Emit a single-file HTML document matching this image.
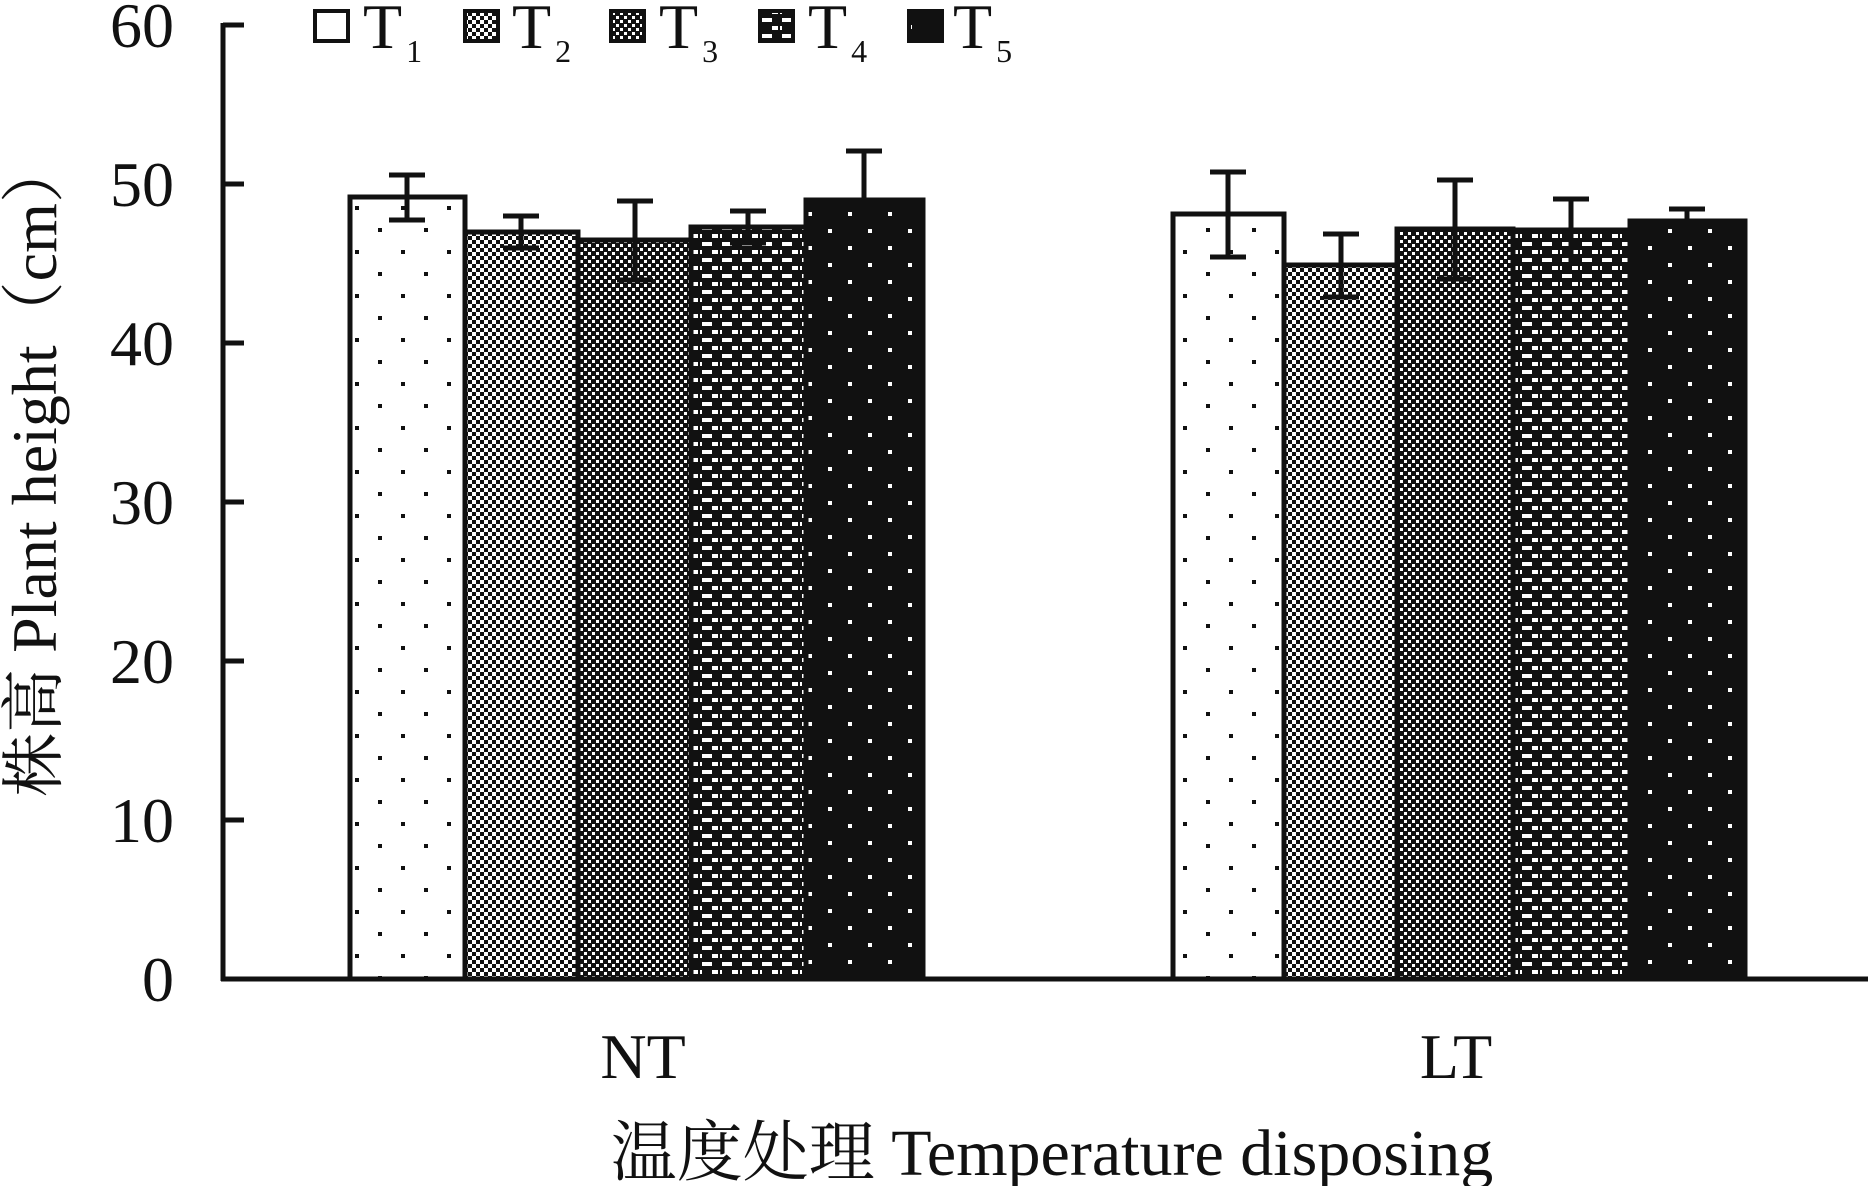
<!DOCTYPE html>
<html><head><meta charset="utf-8"><style>
html,body{margin:0;padding:0;background:#fff;}
svg{display:block;}
text{font-family:"Liberation Serif","Noto Serif CJK SC",serif;fill:#111;}
</style></head><body>
<svg width="1868" height="1186" viewBox="0 0 1868 1186" xmlns="http://www.w3.org/2000/svg">
<defs>
<pattern id="p1" width="46" height="44" patternUnits="userSpaceOnUse">
<rect width="46" height="44" fill="#fff"/>
<rect x="10" y="8" width="4" height="4" fill="#111"/><rect x="33" y="30" width="4" height="4" fill="#111"/>
</pattern>
<pattern id="p2" width="8" height="8" patternUnits="userSpaceOnUse">
<rect width="8" height="8" fill="#fff"/><rect width="4" height="4" fill="#111"/><rect x="4" y="4" width="4" height="4" fill="#111"/>
</pattern>
<pattern id="p3" width="8" height="8" patternUnits="userSpaceOnUse">
<rect width="8" height="8" fill="#111"/><rect width="3" height="3" fill="#fff"/><rect x="4" y="4" width="3" height="3" fill="#fff"/>
</pattern>
<pattern id="p4" width="20" height="16" patternUnits="userSpaceOnUse">
<rect width="20" height="16" fill="#111"/><rect x="2" y="2" width="10" height="4" fill="#fff"/><rect x="12" y="10" width="6" height="4" fill="#fff"/><rect x="0" y="10" width="2" height="4" fill="#fff"/>
</pattern>
<pattern id="p5" width="40" height="34" patternUnits="userSpaceOnUse">
<rect width="40" height="34" fill="#111"/>
<rect x="8" y="8" width="4" height="4" fill="#fff"/><rect x="28" y="25" width="4" height="4" fill="#fff"/>
</pattern>
</defs>

<line x1="223" y1="23" x2="223" y2="981" stroke="#111" stroke-width="5"/>
<line x1="221" y1="979" x2="1868" y2="979" stroke="#111" stroke-width="5"/>
<g stroke="#111" stroke-width="5">
<line x1="223" y1="25" x2="244" y2="25"/>
<line x1="223" y1="184" x2="244" y2="184"/>
<line x1="223" y1="343" x2="244" y2="343"/>
<line x1="223" y1="502" x2="244" y2="502"/>
<line x1="223" y1="661" x2="244" y2="661"/>
<line x1="223" y1="820" x2="244" y2="820"/>
</g>
<g font-size="64" text-anchor="end">
<text x="174" y="47">60</text>
<text x="174" y="206">50</text>
<text x="174" y="365">40</text>
<text x="174" y="524">30</text>
<text x="174" y="683">20</text>
<text x="174" y="842">10</text>
<text x="174" y="1001">0</text>
</g>

<g stroke="#111" stroke-width="5">
<rect x="350" y="197" width="115" height="782" fill="url(#p1)"/>
<rect x="465" y="232" width="113" height="747" fill="url(#p2)"/>
<rect x="578" y="240" width="113" height="739" fill="url(#p3)"/>
<rect x="691" y="227" width="115" height="752" fill="url(#p4)"/>
<rect x="806" y="200" width="117" height="779" fill="url(#p5)"/>
<rect x="1173" y="214" width="111" height="765" fill="url(#p1)"/>
<rect x="1284" y="265" width="113" height="714" fill="url(#p2)"/>
<rect x="1397" y="229" width="116" height="750" fill="url(#p3)"/>
<rect x="1513" y="230" width="117" height="749" fill="url(#p4)"/>
<rect x="1630" y="221" width="115" height="758" fill="url(#p5)"/>
</g>
<g stroke="#111" stroke-width="5" fill="none">
<path d="M407 175V220M389 175H425M389 220H425"/>
<path d="M521 216V248M503 216H539M503 248H539"/>
<path d="M635 201V280M617 201H653M617 280H653"/>
<path d="M748 211V243M730 211H766M730 243H766"/>
<path d="M864 151V200M846 151H882"/>
<path d="M1228 172V257M1210 172H1246M1210 257H1246"/>
<path d="M1341 234V297M1323 234H1359M1323 297H1359"/>
<path d="M1455 180V279M1437 180H1473M1437 279H1473"/>
<path d="M1571 199V262M1553 199H1589"/>
<path d="M1687 209V221M1669 209H1705"/>
</g>

<g stroke="#111" stroke-width="4">
<rect x="315" y="11" width="33" height="30" fill="url(#p1)"/>
<rect x="465" y="11" width="33" height="30" fill="url(#p2)"/>
<rect x="611" y="11" width="33" height="30" fill="url(#p3)"/>
<rect x="760" y="11" width="33" height="30" fill="url(#p4)"/>
<rect x="909" y="11" width="33" height="30" fill="url(#p5)"/>
</g>
<g font-size="64">
<text x="363" y="48">T<tspan font-size="32" dy="14" dx="4">1</tspan></text>
<text x="512" y="48">T<tspan font-size="32" dy="14" dx="4">2</tspan></text>
<text x="659" y="48">T<tspan font-size="32" dy="14" dx="4">3</tspan></text>
<text x="808" y="48">T<tspan font-size="32" dy="14" dx="4">4</tspan></text>
<text x="953" y="48">T<tspan font-size="32" dy="14" dx="4">5</tspan></text>
</g>

<g font-size="64" text-anchor="middle">
<text x="643" y="1078">NT</text>
<text x="1456" y="1078">LT</text>
<text x="1052" y="1175" font-size="66">温度处理 Temperature disposing</text>
</g>
<text font-size="64" text-anchor="middle" transform="translate(56,468) rotate(-90)">株高 Plant height（cm）</text>
</svg>
</body></html>
